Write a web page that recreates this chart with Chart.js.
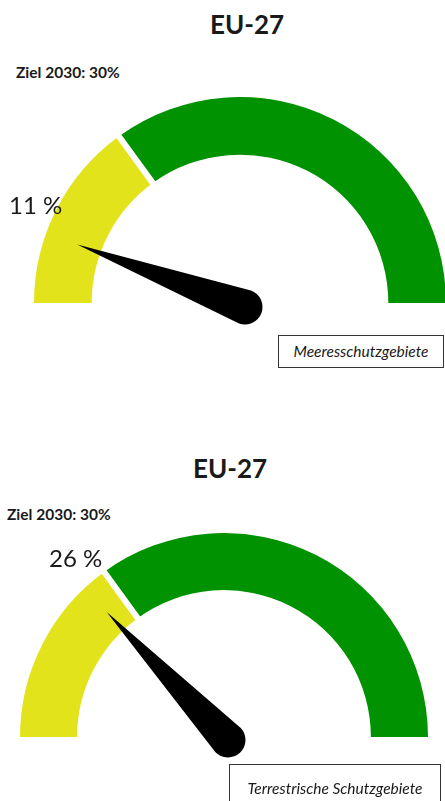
<!DOCTYPE html>
<html>
<head>
<meta charset="utf-8">
<script src="https://cdn.jsdelivr.net/npm/chart.js@4"></script>
<style>
  html, body { margin: 0; padding: 0; background: #fff; }
  body { width: 445px; height: 801px; position: relative; overflow: hidden; font-family: Lato, "Open Sans", sans-serif; color: #1a1a1a; }
  canvas { position: absolute; }
  .txt { position: absolute; white-space: nowrap; transform: translateY(-50%); line-height: 1; }
  .title { font-weight: bold; font-size: 26px; transform: translate(-50%, -50%); }
  .goal { font-weight: bold; font-size: 15.5px; }
  .value { font-size: 24px; }
  .box { position: absolute; border: 1px solid #333; box-sizing: border-box; font-style: italic; font-size: 15.5px; text-align: center; }
</style>
</head>
<body>
<div id="wrap"></div>
<script>
const regions = ['Meeresschutzgebiete', 'Terrestrische Schutzgebiete'];
const titles = ['EU-27', 'EU-27'];
const currentShare = [11, 26];
const target2030 = [30, 30];
const bandLabels = ['unter Ziel', 'Ziel erreicht'];
const yellowBand = [30, 30];
const greenBand = [70, 70];

// page layout for each gauge (not data)
const layouts = [
  { left: 34, top: 97, r: 206, titleX: 247, titleY: 24, goalX: 16, goalY: 73, valX: 9, valY: 205,
    pivot: [5, 4], box: { left: 278, top: 335, width: 166, height: 33 } },
  { left: 20, top: 533, r: 204, titleX: 230, titleY: 468, goalX: 7, goalY: 515, valX: 49, valY: 558,
    pivot: [4, 3], box: { left: 229, top: 764, width: 212, height: 42 } }
];

const needlePlugin = {
  id: 'needle',
  afterDatasetsDraw(chart, args, opts) {
    const ctx = chart.ctx;
    const arc = chart.getDatasetMeta(0).data[0];
    const cx = arc.x, cy = arc.y;
    // white gap between the two bands
    ctx.save();
    ctx.strokeStyle = '#fff';
    ctx.lineWidth = 6;
    const ga = arc.endAngle;
    ctx.beginPath();
    ctx.moveTo(cx + Math.cos(ga) * (arc.innerRadius - 2), cy + Math.sin(ga) * (arc.innerRadius - 2));
    ctx.lineTo(cx + Math.cos(ga) * (arc.outerRadius + 2), cy + Math.sin(ga) * (arc.outerRadius + 2));
    ctx.stroke();
    // needle, pivot sits a little below-right of the arc centre like in the original
    const a = Math.PI * (1 + opts.value / 100);
    const len = arc.outerRadius * 0.84;
    const px = cx + opts.pivot[0], py = cy + opts.pivot[1];
    const br = 17.5;
    ctx.fillStyle = '#000';
    ctx.beginPath();
    ctx.moveTo(cx + Math.cos(a) * len, cy + Math.sin(a) * len);
    ctx.lineTo(px + Math.cos(a + Math.PI / 2) * br, py + Math.sin(a + Math.PI / 2) * br);
    ctx.arc(px, py, br, a + Math.PI / 2, a - Math.PI / 2);
    ctx.closePath();
    ctx.fill();
    ctx.restore();
  }
};

const wrap = document.getElementById('wrap');

regions.forEach((name, i) => {
  const L = layouts[i];
  const cv = document.createElement('canvas');
  const w = L.r * 2, h = L.r + 30;
  cv.width = w; cv.height = h;
  cv.style.left = L.left + 'px'; cv.style.top = L.top + 'px';
  cv.style.width = w + 'px'; cv.style.height = h + 'px';
  wrap.appendChild(cv);

  new Chart(cv.getContext('2d'), {
    type: 'doughnut',
    data: {
      labels: bandLabels,
      datasets: [{
        data: [yellowBand[i], greenBand[i]],
        backgroundColor: ['#e3e31c', '#009200'],
        borderWidth: 0
      }]
    },
    options: {
      responsive: false,
      animation: false,
      rotation: -90,
      circumference: 180,
      cutout: '72%',
      layout: { padding: { bottom: 30 } },
      plugins: {
        legend: { display: false },
        tooltip: { enabled: false },
        needle: { value: currentShare[i], pivot: L.pivot }
      }
    },
    plugins: [needlePlugin]
  });

  const t = document.createElement('div');
  t.className = 'txt title';
  t.textContent = titles[i];
  t.style.left = L.titleX + 'px'; t.style.top = L.titleY + 'px';
  wrap.appendChild(t);

  const g = document.createElement('div');
  g.className = 'txt goal';
  g.textContent = 'Ziel 2030: ' + target2030[i] + '%';
  g.style.left = L.goalX + 'px'; g.style.top = L.goalY + 'px';
  wrap.appendChild(g);

  const v = document.createElement('div');
  v.className = 'txt value';
  v.textContent = currentShare[i] + ' %';
  v.style.left = L.valX + 'px'; v.style.top = L.valY + 'px';
  wrap.appendChild(v);

  const b = document.createElement('div');
  b.className = 'box';
  b.textContent = name;
  b.style.left = L.box.left + 'px'; b.style.top = L.box.top + 'px';
  b.style.width = L.box.width + 'px'; b.style.height = L.box.height + 'px';
  b.style.lineHeight = (i === 0 ? L.box.height - 2 : 46) + 'px';
  wrap.appendChild(b);
});
</script>
</body>
</html>
